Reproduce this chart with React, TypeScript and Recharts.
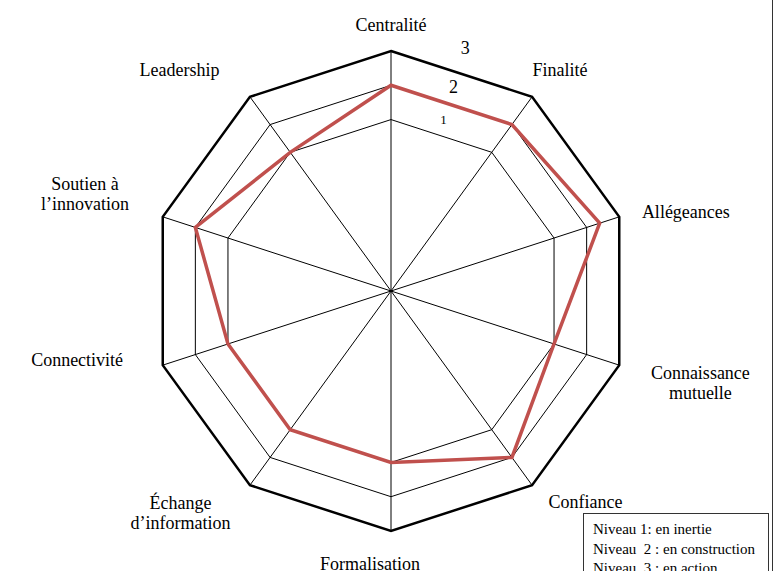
import React from 'react';
import { RadarChart, Radar, PolarGrid, PolarAngleAxis, PolarRadiusAxis } from 'recharts';

// ---- data ----
const categories = [
  'Centralité',
  'Finalité',
  'Allégeances',
  'Connaissance\nmutuelle',
  'Confiance',
  'Formalisation',
  'Échange\nd’information',
  'Connectivité',
  'Soutien à\nl’innovation',
  'Leadership',
];
const niveauValues = [2, 2, 2.4, 1, 2, 1, 1, 1, 2, 1];
const maxLevelValues = [3, 3, 3, 3, 3, 3, 3, 3, 3, 3];
const levelTicks = [1, 2, 3];
const legendLines = ['Niveau 1: en inertie', 'Niveau  2 : en construction', 'Niveau  3 : en action'];

const data = categories.map((c, i) => ({ category: c, niveau: niveauValues[i], max: maxLevelValues[i] }));

// ---- layout / style ----
const W = 779;
const H = 571;
const CX = 391;
const CY = 291;
const R = 240;
const FONT = '"Liberation Serif", "Times New Roman", serif';
const FS = 18;
const LH = 20;
const LABEL_R = R + 28;
const RADIUS_AXIS_ANGLE = 73;

const LABEL_NUDGE: Record<string, [number, number]> = {
  'Centralité': [0, 12],
  'Finalité': [-16, -4],
  'Allégeances': [-4, 4],
  'Connaissance\nmutuelle': [5, 9],
  'Confiance': [0, -6],
  'Formalisation': [-21, -5],
  'Échange\nd’information': [-3, 5],
  'Connectivité': [-13, -14],
  'Soutien à\nl’innovation': [-7, -14],
  'Leadership': [-14, -4],
};

let ctx: CanvasRenderingContext2D | null = null;
function measure(text: string, size: number): number {
  if (!ctx) ctx = document.createElement('canvas').getContext('2d');
  if (!ctx) return text.length * size * 0.5;
  ctx.font = `${size}px "Liberation Serif"`;
  return ctx.measureText(text).width;
}

const AngleTick = (props: any) => {
  const { payload } = props;
  const angle = Number(payload.coordinate);
  const rad = (angle * Math.PI) / 180;
  const cos = Math.cos(rad);
  const sin = Math.sin(rad);
  const ax = CX + LABEL_R * cos;
  const ay = CY - LABEL_R * sin;
  const label = String(payload.value);
  const lines = label.split('\n');
  const w = Math.max(...lines.map((l) => measure(l, FS)));
  const h = lines.length * LH;
  let bx = ax;
  let by = ay;
  if (cos > 0.01) bx = ax + w / 2;
  else if (cos < -0.01) bx = ax - w / 2;
  else by = sin > 0 ? ay - h / 2 : ay + h / 2;
  const n = LABEL_NUDGE[label] || [0, 0];
  bx += n[0];
  by += n[1];
  return (
    <g>
      {lines.map((l, i) => (
        <text
          key={i}
          x={bx}
          y={by + (i - (lines.length - 1) / 2) * LH}
          textAnchor="middle"
          dominantBaseline="central"
          fontFamily={FONT}
          fontSize={FS}
          fill="#000"
        >
          {l}
        </text>
      ))}
    </g>
  );
};

const RadiusTick = (props: any) => {
  const { payload, x, y } = props;
  const v = Number(payload.value);
  const rad = (RADIUS_AXIS_ANGLE * Math.PI) / 180;
  const off = v === 3 ? 14 : 8;
  return (
    <text
      x={x + off * Math.cos(rad)}
      y={y - off * Math.sin(rad)}
      textAnchor="middle"
      dominantBaseline="central"
      fontFamily={FONT}
      fontSize={v === 1 ? 13 : 18}
      fill="#000"
    >
      {payload.value}
    </text>
  );
};

export default function App() {
  return (
    <div style={{ position: 'fixed', left: 0, top: 0, width: W, height: H, background: '#fff', overflow: 'hidden' }}>
      <RadarChart
        width={W}
        height={H}
        data={data}
        cx={CX}
        cy={CY}
        outerRadius={R}
        margin={{ top: 0, right: 0, bottom: 0, left: 0 }}
      >
        <PolarGrid gridType="polygon" stroke="#000" strokeWidth={1} strokeOpacity={1} />
        <PolarAngleAxis dataKey="category" tick={AngleTick} tickLine={false} axisLine={false} />
        <PolarRadiusAxis
          type="number"
          domain={[-3.6, 3]}
          ticks={levelTicks as any}
          allowDataOverflow
          angle={RADIUS_AXIS_ANGLE}
          axisLine={false}
          tickLine={false}
          tick={RadiusTick}
        />
        <Radar
          dataKey="max"
          stroke="#000"
          strokeWidth={2.5}
          fill="none"
          fillOpacity={0}
          dot={false}
          isAnimationActive={false}
          legendType="none"
        />
        <Radar
          dataKey="niveau"
          stroke="#c0504d"
          strokeWidth={3.5}
          fill="none"
          fillOpacity={0}
          dot={false}
          isAnimationActive={false}
        />
      </RadarChart>
      <div
        style={{
          position: 'absolute',
          left: 583,
          top: 513,
          width: 186,
          height: 80,
          boxSizing: 'border-box',
          border: '1.5px solid #333',
          paddingTop: 6,
          paddingLeft: 9,
          fontFamily: FONT,
          fontSize: 15,
          lineHeight: '19.5px',
          color: '#000',
          whiteSpace: 'pre',
        }}
      >
        {legendLines.map((l, i) => (
          <div key={i}>{l}</div>
        ))}
      </div>
      <div
        style={{
          position: 'absolute',
          left: 772,
          top: 0,
          width: 0,
          height: H,
          borderLeft: '1.5px solid #333',
        }}
      />
    </div>
  );
}
